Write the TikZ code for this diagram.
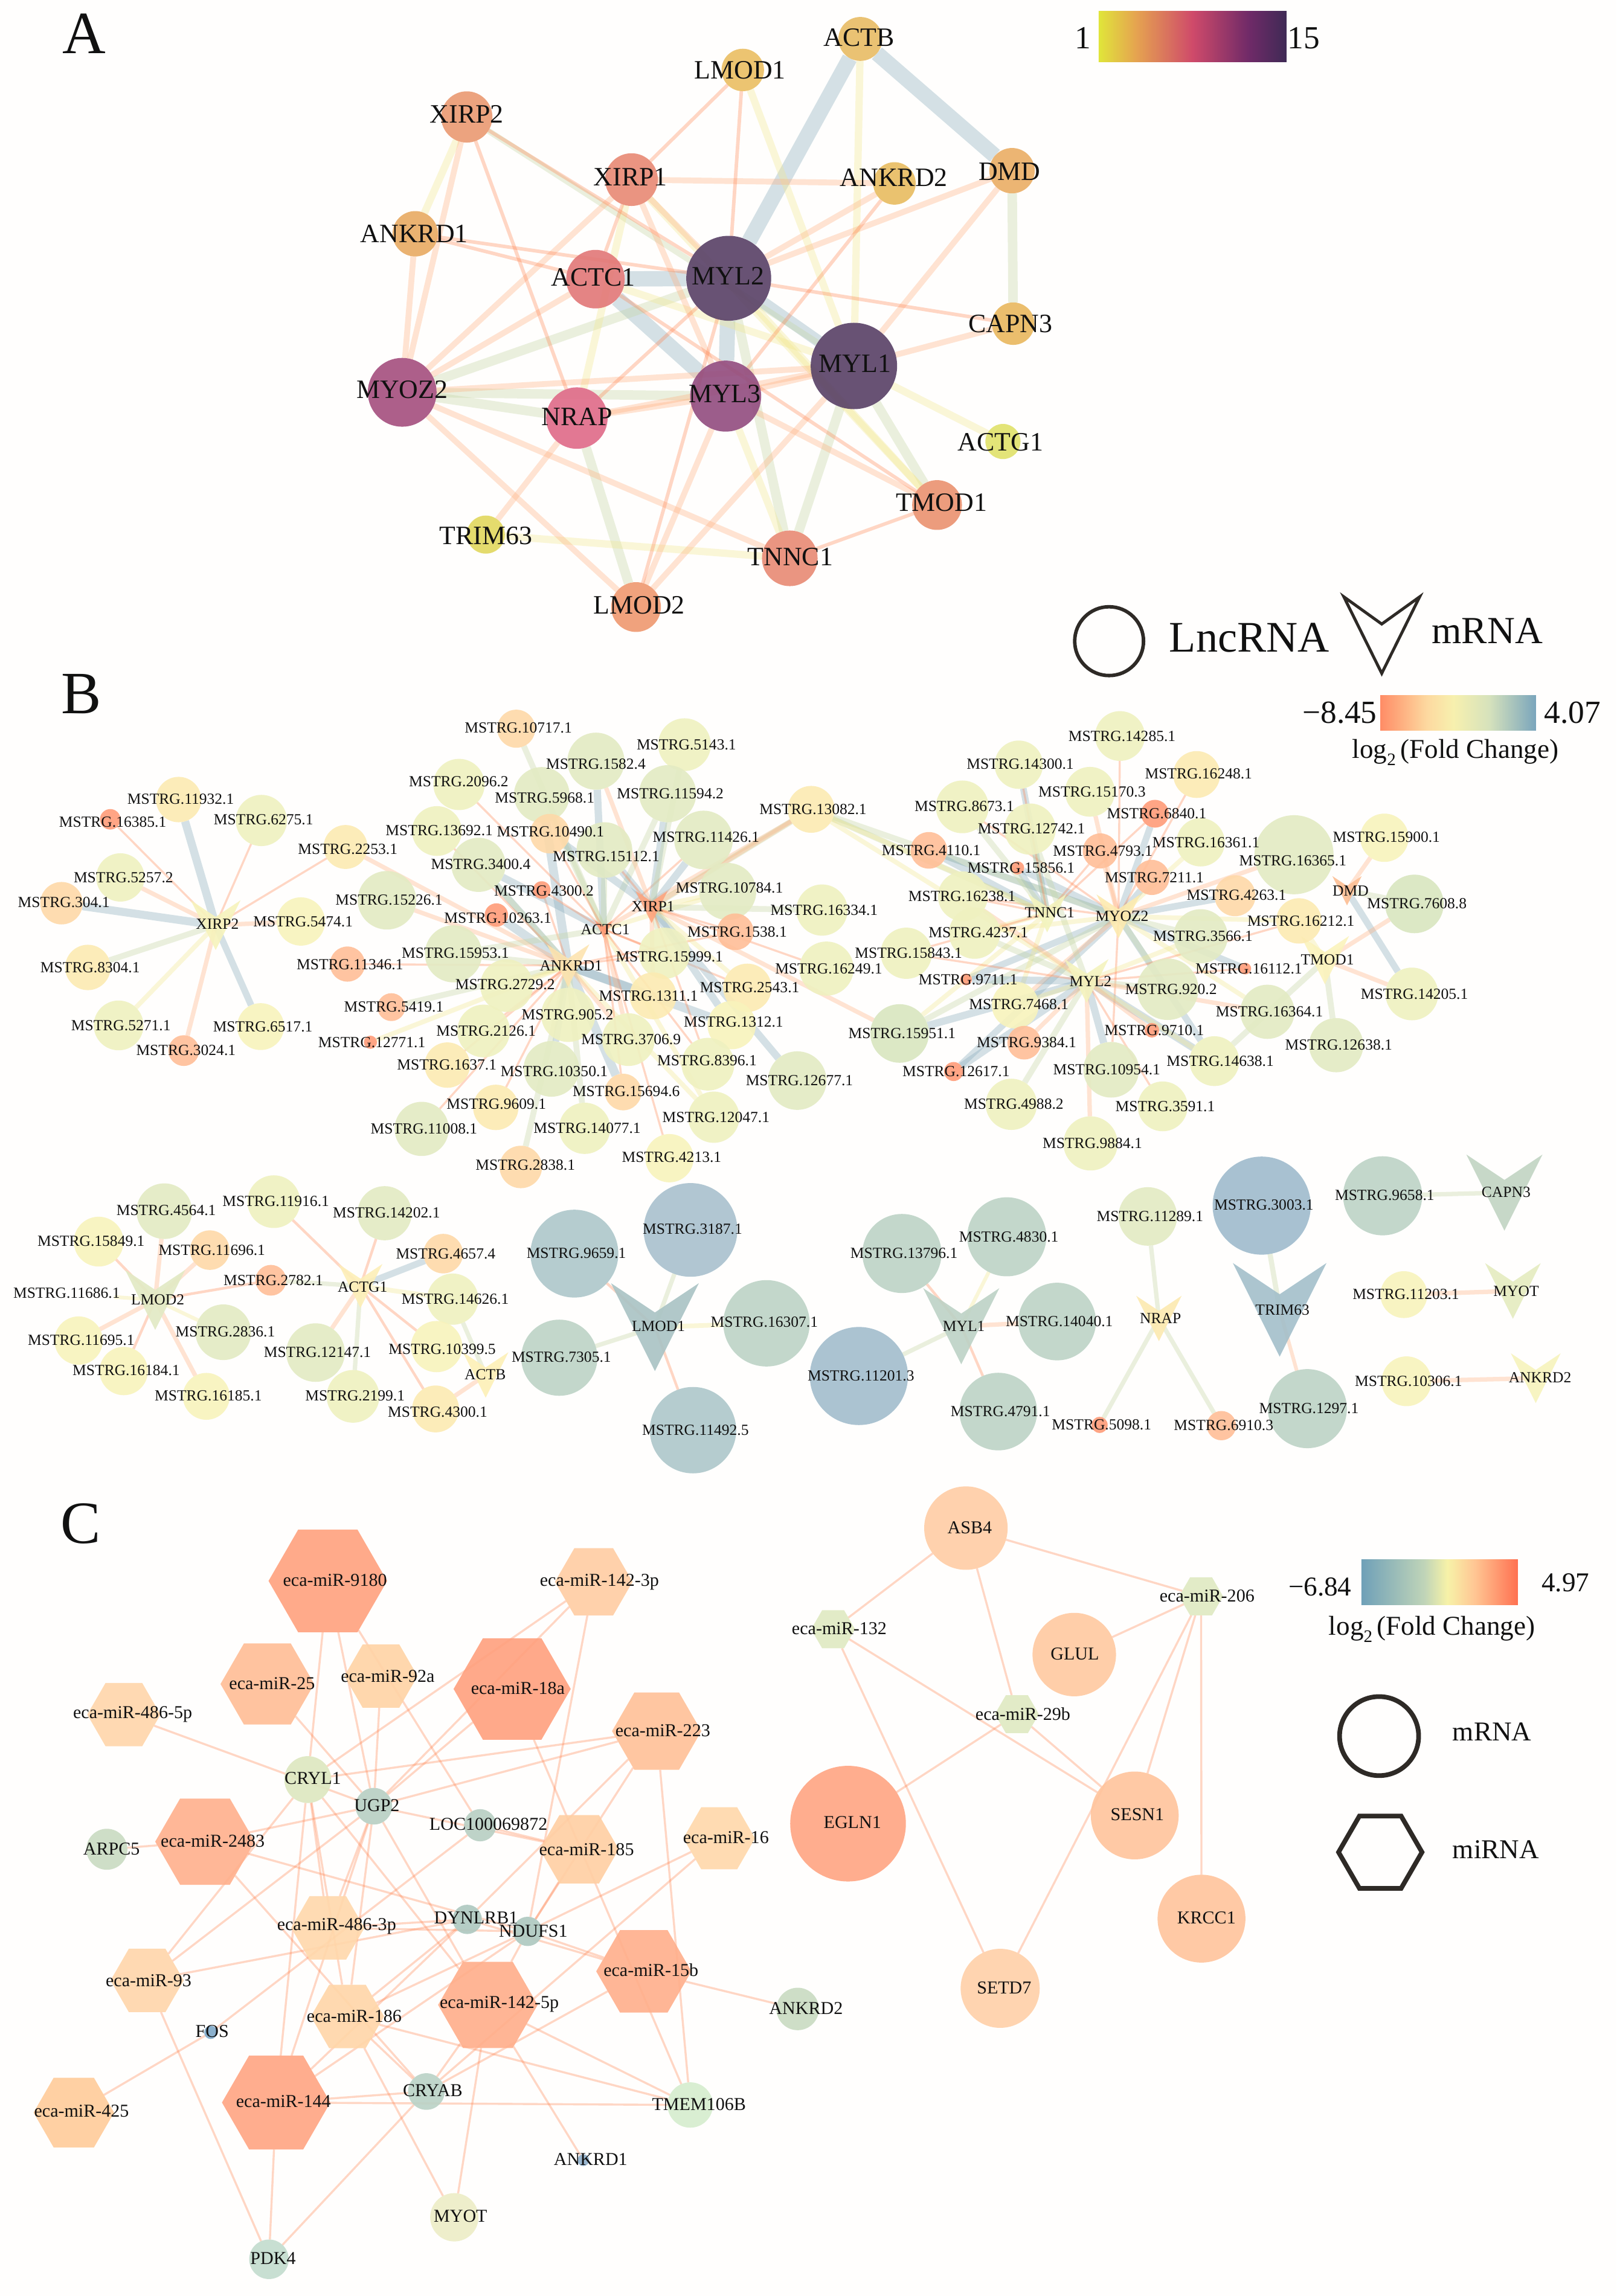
\documentclass[tikz,border=0pt]{standalone}
\usepackage{fontspec}
\setmainfont{Liberation Serif}
\usetikzlibrary{shapes.geometric}
\pgfdeclarelayer{edgelayer}\pgfdeclarelayer{labellayer}
\pgfsetlayers{edgelayer,main,labellayer}
% node palette for panels B and C
\definecolor{c1}{HTML}{FF9C78}\definecolor{c2}{HTML}{FFBE97}\definecolor{c3}{HTML}{FED9A8}
\definecolor{c4}{HTML}{FCEBB2}\definecolor{c5}{HTML}{F8F3BC}\definecolor{c6}{HTML}{EFF1C0}
\definecolor{c7}{HTML}{E3EBC3}\definecolor{c8}{HTML}{D9E6C0}\definecolor{c9}{HTML}{BDD3C6}
\definecolor{c10}{HTML}{AEC7CA}\definecolor{c11}{HTML}{9FBBCD}\definecolor{c12}{HTML}{A9C1CE}\definecolor{c13}{HTML}{A2BDCD}
\definecolor{ink}{HTML}{111111}\definecolor{outl}{HTML}{2E2A26}\definecolor{paper}{HTML}{FFFEFD}
% bar stops
\definecolor{ba0}{HTML}{E0E53A}\definecolor{ba1}{HTML}{E5A350}\definecolor{ba2}{HTML}{CF4A6A}\definecolor{ba3}{HTML}{6F2A68}\definecolor{ba4}{HTML}{3F2A55}
\definecolor{bb0}{HTML}{FF8C66}\definecolor{bb1}{HTML}{FDD9A0}\definecolor{bb2}{HTML}{F7F0AE}\definecolor{bb3}{HTML}{D6E2BC}\definecolor{bb4}{HTML}{7AA5BC}
\definecolor{bc0}{HTML}{6FA0B8}\definecolor{bc1}{HTML}{BFD4B8}\definecolor{bc2}{HTML}{F7F2A8}\definecolor{bc3}{HTML}{FFC794}\definecolor{bc4}{HTML}{FF7050}
\pgfdeclarehorizontalshading{barA}{100bp}{color(0bp)=(ba0);color(25bp)=(ba0);color(35bp)=(ba1);color(50bp)=(ba2);color(65bp)=(ba3);color(75bp)=(ba4);color(100bp)=(ba4)}
\pgfdeclarehorizontalshading{barB}{100bp}{color(0bp)=(bb0);color(25bp)=(bb0);color(40bp)=(bb1);color(48.5bp)=(bb2);color(60bp)=(bb3);color(75bp)=(bb4);color(100bp)=(bb4)}
\pgfdeclarehorizontalshading{barC}{100bp}{color(0bp)=(bc0);color(25bp)=(bc0);color(45bp)=(bc1);color(52.5bp)=(bc2);color(61bp)=(bc3);color(75bp)=(bc4);color(100bp)=(bc4)}
\definecolor{eB}{HTML}{8BAEBE}\definecolor{eG}{HTML}{C5D7A7}\definecolor{eY}{HTML}{F2E88E}\definecolor{eO}{HTML}{FFB17F}\definecolor{eT}{HTML}{FF824D}
\tikzset{
 nf/.style={inner sep=0pt,outer sep=0pt,draw=none,fill opacity=.9},
 labA/.style={inner sep=0pt,text=ink,font=\fontsize{9.05}{10}\selectfont},
 labB/.style={inner sep=0pt,text=ink,font=\fontsize{5.27}{6}\selectfont},
 labC/.style={inner sep=0pt,text=ink,font=\fontsize{6.2}{7}\selectfont},
 legT/.style={inner sep=0pt,text=ink,font=\fontsize{9.3}{11}\selectfont},
 panelT/.style={inner sep=0pt,text=ink,font=\fontsize{20.5}{22}\selectfont},
 ebl/.style={eB,draw opacity=.37,line width=#1*.5pt},ebl/.default=6,
 egn/.style={eG,draw opacity=.36,line width=#1*.5pt},egn/.default=4,
 eyl/.style={eY,draw opacity=.34,line width=#1*.5pt},eyl/.default=3.2,
 eor/.style={eO,draw opacity=.34,line width=#1*.5pt},eor/.default=3,
 eth/.style={eT,draw opacity=.32,line width=#1*.5pt},eth/.default=1.4,
}
\newcommand{\NCirc}[9]{\definecolor{tmpcol}{HTML}{#5}\node[nf,circle,minimum size=#4*.5pt,fill=tmpcol] (#1) at (#2,#3) {};
 \begin{pgfonlayer}{labellayer}\node[#9] (#1t) at (#7,#8) {#6};\end{pgfonlayer}}
\newcommand{\NLnc}[8]{\node[nf,circle,minimum size=#5*.5pt,fill=#6] (l#1v#2) at (#3,#4) {};
 \begin{pgfonlayer}{labellayer}\node[labB] (l#1v#2t) at (#7,#8) {MSTRG.#1.#2};\end{pgfonlayer}}
\newcommand{\NV}[9]{\definecolor{tmpcol}{HTML}{#5}\coordinate (#1) at (#2,#3);
 \fill[tmpcol,fill opacity=.9] ({#2-#4/2},{#3-#4/2}) -- (#2,{#3-#4/6}) -- ({#2+#4/2},{#3-#4/2}) -- (#2,{#3+#4/2}) -- cycle;
 \begin{pgfonlayer}{labellayer}\node[#9] (#1t) at (#7,#8) {#6};\end{pgfonlayer}}
\newcommand{\NHex}[8]{\definecolor{tmpcol}{HTML}{#5}\node[nf,regular polygon,regular polygon sides=6,minimum size=#4*.5pt,fill=tmpcol] (#1) at (#2,#3) {};
 \begin{pgfonlayer}{labellayer}\node[labC] (#1t) at (#7,#8) {#6};\end{pgfonlayer}}
\newcommand{\EHub}[3]{\foreach \a in {#3} \draw[#1] (l\a) -- (h#2);}
\newcommand{\EPairs}[2]{\foreach \a/\b in {#2} \draw[#1] (\a) -- (\b);}
\newcommand{\LogFC}[1]{log\raisebox{-.28em}{\fontsize{#1}{#1}\selectfont 2}\,(Fold Change)}
\begin{document}
\begin{tikzpicture}[x=.5pt,y=-.5pt]
\useasboundingbox (0,0) rectangle (1104,1568.5);
\begin{pgfonlayer}{edgelayer}\fill[paper] (0,0) rectangle (1104,1568.5);\end{pgfonlayer}
% ===== panel letters =====
\node[panelT] (letA) at (57.5,23) {A};
\node[panelT] (letB) at (55.5,474) {B};
\node[panelT] (letC) at (55,1041) {C};
% ===== Panel A =====
\NCirc{aACTB}{587.6}{26.6}{30}{E8BC64}{ACTB}{586.6}{25.5}{labA}
\NCirc{aLMOD1}{507.3}{47.8}{29}{EABE62}{LMOD1}{505.5}{47.8}{labA}
\NCirc{aXIRP2}{318.8}{79.9}{35}{EB9A72}{XIRP2}{318.8}{78.1}{labA}
\NCirc{aXIRP1}{431.3}{122.7}{36}{E88974}{XIRP1}{430.6}{121}{labA}
\NCirc{aANKRD2}{610.9}{125.3}{29}{E8BC60}{ANKRD2}{610.5}{121.5}{labA}
\NCirc{aDMD}{691.2}{116.6}{31}{EBAE64}{DMD}{689.5}{117.2}{labA}
\NCirc{aANKRD1}{283.6}{159.7}{31}{E8AA62}{ANKRD1}{282.9}{159.7}{labA}
\NCirc{aACTC1}{406.7}{190.7}{40}{E27777}{ACTC1}{405.3}{189.6}{labA}
\NCirc{aMYL2}{497.7}{190.1}{58}{584066}{MYL2}{497.3}{188.7}{labA}
\NCirc{aMYL1}{583.2}{250}{59}{584066}{MYL1}{583.9}{248.3}{labA}
\NCirc{aCAPN3}{692}{221.1}{29}{E9B85E}{CAPN3}{690.2}{221.4}{labA}
\NCirc{aMYOZ2}{274.7}{268}{47}{A54E7E}{MYOZ2}{274.7}{266.2}{labA}
\NCirc{aMYL3}{495.6}{270.6}{48.5}{924C7F}{MYL3}{495}{269.1}{labA}
\NCirc{aNRAP}{394}{285.6}{42}{DF6A88}{NRAP}{394}{284.5}{labA}
\NCirc{aACTG1}{685}{301.6}{24}{E0E26A}{ACTG1}{683.4}{302.1}{labA}
\NCirc{aTMOD1}{640}{345}{34}{EA9270}{TMOD1}{643}{343.5}{labA}
\NCirc{aTNNC1}{539.4}{381.4}{38}{E88A74}{TNNC1}{539.8}{380.3}{labA}
\NCirc{aTRIM63}{331.8}{365.2}{26}{E2D85E}{TRIM63}{331.8}{365.8}{labA}
\NCirc{aLMOD2}{434.4}{414.7}{34}{EF9870}{LMOD2}{436.5}{413.3}{labA}
\begin{pgfonlayer}{edgelayer}
\EPairs{ebl=10.5}{aACTB/aMYL2,aACTB/aDMD,aACTC1/aMYL2,aACTC1/aMYL3,aMYL2/aMYL3}
\EPairs{ebl=8}{aMYL2/aMYL1}
\EPairs{egn=6.5}{aMYL2/aMYOZ2,aMYL2/aTNNC1,aDMD/aCAPN3,aMYL1/aTNNC1,aMYL1/aTMOD1,aMYL3/aMYOZ2,aNRAP/aMYOZ2,aNRAP/aLMOD2}
\EPairs{egn=4}{aXIRP2/aMYL1}
\EPairs{eyl=5}{aACTB/aMYL1,aLMOD1/aMYL1,aXIRP2/aANKRD1,aXIRP1/aNRAP,aXIRP1/aTMOD1,aACTC1/aMYL1,aMYL2/aTMOD1,aMYL1/aACTG1,aMYL3/aTNNC1,aTNNC1/aTRIM63}
\EPairs{eor=4}{aXIRP2/aMYOZ2,aXIRP1/aMYL2,aXIRP1/aMYOZ2,aXIRP1/aMYL3,aXIRP1/aANKRD2,aANKRD2/aMYL2,aDMD/aMYL2,aDMD/aMYL1,aANKRD1/aMYOZ2,aACTC1/aMYOZ2,aMYL1/aMYOZ2,aMYL1/aNRAP,aMYL1/aMYL3,aMYL1/aCAPN3,aMYL1/aLMOD2,aMYL3/aNRAP,aMYL3/aLMOD2,aMYL3/aTMOD1,aNRAP/aTRIM63,aMYOZ2/aTNNC1,aMYOZ2/aLMOD2}
\EPairs{eth=2.4}{aLMOD1/aXIRP1,aLMOD1/aMYL2,aXIRP2/aNRAP,aXIRP2/aMYL2,aXIRP1/aACTC1,aANKRD2/aMYL3,aANKRD1/aMYL2,aANKRD1/aACTC1,aACTC1/aTMOD1,aMYL2/aNRAP,aMYL2/aLMOD2,aMYL2/aCAPN3,aTNNC1/aTMOD1}
\end{pgfonlayer}
% colour bar A
\shade[shading=barA] (750.4,7.8) rectangle (878.7,42.4);
\node[legT,font=\fontsize{11}{12}\selectfont] (barAlo) at (739.6,26) {1};
\node[legT,font=\fontsize{11}{12}\selectfont] (barAhi) at (890.5,26) {15};
% ===== legend B =====
\node[circle,draw=outl,line width=1.2pt,minimum size=47*.5pt,inner sep=0pt] (legLnc) at (757.5,438) {};
\node[legT,font=\fontsize{14.9}{16}\selectfont] (legLncT) at (853.3,435.6) {LncRNA};
\draw[outl,line width=1pt,line join=miter] (917.8,407.7) -- (943.7,426.3) -- (969.6,407.7) -- (943.7,460) -- cycle;
\node[legT,font=\fontsize{13.1}{15}\selectfont] (legmT) at (1015.8,431) {mRNA};
\shade[shading=barB] (942.7,475) rectangle (1049,499);
\node[legT,font=\fontsize{11}{12}\selectfont] (barBlo) at (915,487) {−8.45};
\node[legT,font=\fontsize{11}{12}\selectfont] (barBhi) at (1074,487) {4.07};
\node[legT] (barBt) at (994,514) {\LogFC{6}};
% ===== Panel B: hubs =====
\NV{hXIRP2}{147.3}{632}{34}{F7F3BC}{XIRP2}{148.5}{631.4}{labB}
\NV{hXIRP1}{445}{619.6}{22}{FFA57E}{XIRP1}{446}{619.4}{labB}
\NV{hACTC1}{412.3}{634.8}{12}{FF9C78}{ACTC1}{413.4}{634.8}{labB}
\NV{hANKRD1}{388}{659.6}{29}{FDE4B0}{ANKRD1}{390}{659.6}{labB}
\NV{hTNNC1}{715.2}{623.9}{26}{F3F4BE}{TNNC1}{716.9}{623.4}{labB}
\NV{hMYOZ2}{763.9}{626}{30}{FDEBB0}{MYOZ2}{766.3}{626}{labB}
\NV{hMYL2}{742.1}{670.2}{30}{F4F3BE}{MYL2}{744.8}{670.2}{labB}
\NV{hDMD}{920}{608.5}{20}{FDBE93}{DMD}{922.4}{608.5}{labB}
\NV{hTMOD1}{904.9}{655.9}{33}{FBF3BC}{TMOD1}{906.6}{655.4}{labB}
\NV{hLMOD2}{106}{888}{41}{E2EAC4}{LMOD2}{107.7}{888}{labB}
\NV{hACTG1}{246.2}{878.5}{30}{FDEFB8}{ACTG1}{247.6}{879.3}{labB}
\NV{hACTB}{331.7}{939.3}{31}{FDF0B7}{ACTB}{331.4}{938.9}{labB}
\NV{hLMOD1}{447.3}{906.6}{60}{A9C3C4}{LMOD1}{449.7}{906.2}{labB}
\NV{hMYL1}{656.5}{906}{52}{BDD2C6}{MYL1}{658.3}{906}{labB}
\NV{hNRAP}{791.5}{900.7}{31}{FCEAB0}{NRAP}{792.6}{900.4}{labB}
\NV{hTRIM63}{874}{894.8}{64}{A3BFCA}{TRIM63}{875.9}{894.8}{labB}
\NV{hCAPN3}{1027.5}{814.7}{52}{C2D4C3}{CAPN3}{1028.6}{814.4}{labB}
\NV{hMYOT}{1033.3}{881.9}{38}{E5ECC0}{MYOT}{1035.5}{881.9}{labB}
\NV{hANKRD2}{1048.9}{941.5}{34}{F7F3BC}{ANKRD2}{1051.8}{941.1}{labB}
% ===== Panel B: lncRNA =====
\NLnc{11932}{1}{122}{546.2}{31}{c4}{123.4}{546}
\NLnc{16385}{1}{75.3}{559.7}{14}{c1}{77}{561.5}
\NLnc{6275}{1}{178.5}{560.5}{35}{c6}{180}{560}
\NLnc{2253}{1}{236}{578.6}{30}{c4}{237.5}{580.3}
\NLnc{5257}{2}{82.2}{599.4}{33}{c6}{84.3}{599.4}
\NLnc{304}{1}{42}{617}{29}{c3}{43.6}{616.5}
\NLnc{5474}{1}{205.5}{629.5}{33}{c5}{207}{629.5}
\NLnc{15226}{1}{264.3}{615}{40}{c7}{265.7}{614.8}
\NLnc{8304}{1}{60}{660.9}{31}{c4}{61.6}{660.9}
\NLnc{11346}{1}{237.3}{658.6}{24}{c2}{239}{658.8}
\NLnc{5271}{1}{81}{700.5}{34}{c6}{82.6}{700.5}
\NLnc{6517}{1}{178}{701.3}{32}{c5}{179.5}{701.3}
\NLnc{3024}{1}{125.5}{717.7}{21}{c2}{127}{717.5}
\NLnc{5419}{1}{267.3}{688}{19}{c2}{269}{688}
\NLnc{12771}{1}{253}{712}{9}{c1}{254}{712}
\NLnc{10717}{1}{352.6}{497.8}{26}{c3}{354}{497}
\NLnc{2096}{2}{313.5}{535.9}{35}{c6}{313.3}{533.8}
\NLnc{13692}{1}{298.4}{567.7}{34}{c6}{300}{567.4}
\NLnc{3400}{4}{326.8}{590.8}{37}{c7}{328.4}{590.6}
\NLnc{10263}{1}{339}{625.1}{16}{c1}{340}{627.2}
\NLnc{15953}{1}{309.7}{651.6}{39}{c7}{311}{651.2}
\NLnc{2729}{2}{346}{673.3}{36}{c6}{345}{672.5}
\NLnc{2126}{1}{330.3}{704.3}{36}{c6}{332}{704.3}
\NLnc{1637}{1}{305.5}{727.6}{31}{c4}{305.2}{727.6}
\NLnc{9609}{1}{338.6}{756.5}{31}{c4}{339}{754.4}
\NLnc{11008}{1}{288}{771.2}{37}{c7}{289.6}{771.2}
\NLnc{2838}{1}{355.7}{797.2}{29}{c3}{358.8}{796}
\NLnc{5143}{1}{467.5}{508.7}{36}{c6}{468.8}{508.7}
\NLnc{1582}{4}{407}{520}{39}{c7}{407}{521.8}
\NLnc{11594}{2}{456}{542.2}{39}{c7}{457.8}{542.2}
\NLnc{5968}{1}{370}{543}{38}{c7}{372}{545}
\NLnc{10490}{1}{375.5}{569.5}{27}{c3}{376}{568}
\NLnc{15112}{1}{412.8}{580.7}{38}{c7}{414}{585}
\NLnc{11426}{1}{480.5}{573.8}{40}{c7}{482.2}{571.9}
\NLnc{4300}{2}{370}{608}{12}{c1}{371.5}{608.5}
\NLnc{10784}{1}{497}{609}{39}{c7}{498.2}{606.6}
\NLnc{16334}{1}{561.4}{621.7}{35}{c6}{562.9}{621.7}
\NLnc{1538}{1}{502.2}{636.5}{25}{c2}{503.5}{636.5}
\NLnc{15999}{1}{453.8}{651.2}{35}{c6}{457.2}{653.7}
\NLnc{16249}{1}{564.5}{661.7}{37}{c6}{566}{661.7}
\NLnc{15843}{1}{619}{651.2}{35}{c6}{620.5}{651.2}
\NLnc{4110}{1}{634.4}{580.9}{25}{c2}{636}{580.9}
\NLnc{13082}{1}{554}{552.9}{32}{c4}{555.3}{552.9}
\NLnc{8673}{1}{657.2}{551.2}{36}{c6}{658.6}{550.8}
\NLnc{16238}{1}{657.6}{612.3}{34}{c6}{657}{612.3}
\NLnc{2543}{1}{510.4}{674.8}{33}{c4}{512}{674.8}
\NLnc{1311}{1}{446}{680.3}{32}{c4}{442.9}{680.3}
\NLnc{905}{2}{388.1}{693.3}{37}{c6}{387.6}{693}
\NLnc{3706}{9}{429.2}{710.2}{36}{c6}{431}{710.2}
\NLnc{1312}{1}{499.7}{700.3}{33}{c5}{501}{698.2}
\NLnc{8396}{1}{483.5}{727}{36}{c6}{482.9}{724.3}
\NLnc{10350}{1}{376.6}{730.2}{38}{c7}{378.5}{731.9}
\NLnc{15694}{6}{425.6}{746}{25}{c3}{427.7}{745.5}
\NLnc{12677}{1}{544.5}{738.2}{40}{c7}{546}{738.2}
\NLnc{15951}{1}{614.4}{706}{40}{c8}{616.1}{706}
\NLnc{14077}{1}{399.3}{770.8}{35}{c6}{401}{770.8}
\NLnc{12047}{1}{487.5}{763.2}{35}{c6}{489}{763.2}
\NLnc{4213}{1}{457.2}{791.2}{33}{c5}{458.7}{790.6}
\NLnc{12617}{1}{651.3}{732}{13}{c1}{653}{732}
\NLnc{14285}{1}{764.9}{502.8}{34}{c6}{766.3}{502.8}
\NLnc{14300}{1}{695.8}{522.4}{33}{c6}{696.8}{522}
\NLnc{16248}{1}{817.3}{529.1}{32}{c4}{818.6}{528.7}
\NLnc{15170}{3}{744.4}{540.9}{34}{c6}{745.8}{540.9}
\NLnc{6840}{1}{788.8}{555.9}{19}{c1}{790}{555.7}
\NLnc{12742}{1}{703.5}{566.4}{35}{c6}{704.5}{566.2}
\NLnc{4793}{1}{751.5}{581.3}{24}{c2}{753.2}{581.3}
\NLnc{16361}{1}{820}{575.4}{33}{c6}{823.7}{575.4}
\NLnc{15856}{1}{695}{592.9}{9}{c1}{697.4}{592.9}
\NLnc{7211}{1}{786.7}{599.4}{24}{c2}{788.4}{599.4}
\NLnc{16365}{1}{883.8}{583.9}{54}{c7}{883}{588.1}
\NLnc{15900}{1}{945.5}{572.3}{33}{c5}{946.9}{572}
\NLnc{4263}{1}{843.5}{611.9}{28}{c3}{844.5}{611.4}
\NLnc{7608}{8}{966}{617.5}{40}{c8}{967.7}{617.1}
\NLnc{16212}{1}{887.1}{629.1}{31}{c4}{888.5}{629.1}
\NLnc{3566}{1}{820}{639.6}{37}{c7}{821.6}{639.6}
\NLnc{4237}{1}{665.6}{637.5}{35}{c6}{668.2}{637.1}
\NLnc{16112}{1}{850.5}{661.7}{8}{c1}{852.9}{661.7}
\NLnc{920}{2}{797.5}{675.8}{42}{c7}{799.8}{675.8}
\NLnc{9711}{1}{659.8}{669.1}{8}{c1}{661.2}{669.1}
\NLnc{7468}{1}{693.4}{686.6}{32}{c5}{695.8}{686.2}
\NLnc{16364}{1}{865.6}{691.2}{37}{c7}{867}{691.2}
\NLnc{14205}{1}{964.3}{679}{36}{c6}{966}{679}
\NLnc{12638}{1}{912.6}{714}{37}{c7}{914.3}{713.7}
\NLnc{9384}{1}{699.5}{712.3}{23}{c2}{701.1}{712.3}
\NLnc{9710}{1}{786.7}{703.8}{10}{c1}{788.4}{703.8}
\NLnc{14638}{1}{829.4}{724.9}{34}{c6}{833.4}{724.9}
\NLnc{10954}{1}{758.9}{730.8}{38}{c7}{755.9}{730.8}
\NLnc{4988}{2}{690.7}{754.4}{35}{c6}{692.4}{754.4}
\NLnc{3591}{1}{794.1}{755.8}{34}{c6}{795.8}{755.8}
\NLnc{9884}{1}{744.8}{781.1}{37}{c6}{746.1}{781.1}
\NLnc{4564}{1}{112.2}{827.4}{38}{c7}{113.5}{827}
\NLnc{11916}{1}{187}{820.9}{36}{c6}{188.4}{820.6}
\NLnc{14202}{1}{262.7}{828.8}{37}{c7}{264}{828.5}
\NLnc{15849}{1}{67.4}{848.2}{34}{c5}{62.2}{847.9}
\NLnc{11696}{1}{143.3}{854}{27}{c3}{144.7}{854}
\NLnc{4657}{4}{302.7}{856.4}{27}{c3}{304.4}{856.4}
\NLnc{2782}{1}{185}{874.6}{21}{c2}{186.7}{874.6}
\NLnc{14626}{1}{309.2}{887.5}{35}{c6}{310.9}{887.5}
\NLnc{11686}{1}{78}{886}{.1}{paper}{45.5}{883.3}
\NLnc{2836}{1}{152.5}{910.1}{38}{c7}{153.9}{909.8}
\NLnc{11695}{1}{53.7}{915.8}{33}{c5}{55.4}{915.5}
\NLnc{12147}{1}{215.5}{924}{40}{c7}{216.8}{923.7}
\NLnc{10399}{5}{298.2}{919.9}{35}{c5}{302}{921.5}
\NLnc{16184}{1}{84.5}{936.6}{33}{c5}{86.2}{936.3}
\NLnc{7305}{1}{382}{927.5}{52}{c9}{383.4}{927}
\NLnc{16185}{1}{140.9}{953.9}{32}{c5}{142.3}{953.5}
\NLnc{2199}{1}{241.1}{953.9}{36}{c6}{242.5}{953.5}
\NLnc{4300}{1}{297.5}{962.5}{32}{c4}{298.9}{964.6}
\NLnc{9659}{1}{392.3}{856.4}{60}{c10}{393.6}{856.1}
\NLnc{3187}{1}{471.6}{840.2}{64}{c12}{473}{839.7}
\NLnc{16307}{1}{523.5}{904}{59}{c9}{522}{903}
\NLnc{11492}{5}{473.3}{977}{59}{c10}{475}{976.8}
\NLnc{13796}{1}{616}{856.3}{54}{c9}{617.4}{856}
\NLnc{4830}{1}{687.6}{844.9}{54}{c9}{689}{844.8}
\NLnc{14040}{1}{722}{902.8}{53}{c9}{723.5}{902.8}
\NLnc{11201}{3}{586.6}{940}{67}{c13}{588}{939.7}
\NLnc{4791}{1}{681.8}{964.3}{53}{c9}{683.3}{964}
\NLnc{11289}{1}{783.9}{831}{40}{c7}{785.4}{831}
\NLnc{3003}{1}{861.7}{823.6}{67}{c11}{863.2}{823.2}
\NLnc{9658}{1}{944.3}{816.9}{54}{c9}{945.7}{816.5}
\NLnc{11203}{1}{958.8}{884.4}{32}{c5}{960.2}{884}
\NLnc{10306}{1}{960.6}{943.6}{34}{c5}{962}{943.6}
\NLnc{1297}{1}{892.9}{962.3}{54}{c9}{894}{962}
\NLnc{5098}{1}{751}{973.4}{11}{c1}{752.4}{973.1}
\NLnc{6910}{3}{834.2}{973.9}{20}{c2}{835.7}{973.6}
\begin{pgfonlayer}{edgelayer}
% XIRP2
\EHub{ebl=5.5}{XIRP2}{11932v1,304v1}
\EHub{ebl=4.5}{XIRP2}{6517v1}
\EHub{egn}{XIRP2}{8304v1}
\EHub{eyl}{XIRP2}{5271v1}
\EHub{eor}{XIRP2}{5257v2,5474v1,3024v1}
\EHub{eth}{XIRP2}{16385v1,6275v1,2253v1}
% left cluster
\EHub{ebl=6}{ANKRD1}{5968v1,10263v1,1311v1,1312v1,15694v6}
\EHub{ebl=4.5}{ANKRD1}{3400v4,10350v1}
\EHub{egn}{ANKRD1}{14077v1,2838v1,15953v1,5419v1,3400v4}
\EHub{eyl}{ANKRD1}{905v2,2729v2,12771v1,12047v1}
\EHub{eor}{ANKRD1}{2253v1,15226v1,3706v9}
\EHub{eth}{ANKRD1}{13692v1,11346v1,2126v1,1637v1,9609v1,11008v1,4300v2,1538v1,15999v1}
\EHub{ebl=5}{ACTC1}{1582v4,3400v4}
\EHub{egn}{ACTC1}{10717v1,5968v1,15112v1,15953v1,11594v2}
\EHub{eyl}{ACTC1}{12047v1,10784v1}
\EHub{eor}{ACTC1}{3706v9,13082v1}
\EHub{eth}{ACTC1}{2096v2,10490v1,4300v2,11426v1,15999v1,2543v1,8396v1,4213v1,15694v6}
\EHub{ebl=5}{XIRP1}{11594v2,11426v1,10490v1,1312v1,12677v1,15112v1}
\EHub{egn}{XIRP1}{5143v1,16334v1,13082v1,15999v1}
\EHub{eyl}{XIRP1}{10784v1,2543v1}
\EHub{eor}{XIRP1}{1582v4,13082v1,15951v1,1311v1}
\EHub{eth}{XIRP1}{15112v1,1538v1,16249v1,8396v1}
% right cluster
\EHub{ebl=4.5}{MYOZ2}{6840v1,7211v1,4263v1,12617v1,14638v1,16112v1,9711v1,15856v1,4110v1}
\EHub{egn}{MYOZ2}{13082v1,15951v1,920v2,3566v1}
\EHub{eyl}{MYOZ2}{16361v1,16212v1,16364v1,4237v1}
\EHub{eor}{MYOZ2}{15170v3,4793v1,16365v1,7468v1}
\EHub{eth}{MYOZ2}{14285v1,16248v1,10954v1,8673v1,16238v1}
\EHub{ebl=4.5}{TNNC1}{4110v1,15856v1,14300v1}
\EHub{egn}{TNNC1}{12742v1,13082v1,8673v1}
\EHub{eyl}{TNNC1}{4237v1,15951v1,7468v1,13082v1}
\EHub{eth}{TNNC1}{14300v1,16238v1,4793v1,15843v1,6840v1}
\EHub{ebl=5}{MYL2}{15951v1,10954v1,12617v1,9711v1,14638v1}
\EHub{egn}{MYL2}{4237v1,4988v2,920v2,12742v1}
\EHub{eyl}{MYL2}{13082v1,14638v1,7468v1,3566v1}
\EHub{eor}{MYL2}{9384v1,9884v1,16364v1,16238v1,9710v1}
\EHub{eth}{MYL2}{15843v1,3591v1,16212v1,16112v1}
\EHub{ebl=4.5}{DMD}{14205v1}
\EHub{egn}{DMD}{7608v8}
\EHub{eor}{DMD}{15900v1}
\EHub{egn}{TMOD1}{12638v1,14638v1}
\EHub{eyl}{TMOD1}{16212v1}
\EHub{eor}{TMOD1}{14205v1,7608v8}
% lower row
\EHub{eyl=2.5}{LMOD2}{11686v1,2836v1}
\EHub{eor}{LMOD2}{4564v1,11696v1,11695v1,16185v1}
\EHub{eth=1.8}{LMOD2}{15849v1,2782v1,16184v1}
\EHub{ebl=4.5}{ACTG1}{4657v4}
\EHub{egn=3}{ACTG1}{2782v1,2199v1}
\EHub{eyl}{ACTG1}{14626v1}
\EHub{eor}{ACTG1}{12147v1}
\EHub{eth=1.8}{ACTG1}{11916v1,14202v1,10399v5,4300v1}
\EHub{egn=3}{ACTB}{14626v1}
\EHub{eor}{ACTB}{4300v1}
\EHub{egn=3}{LMOD1}{3187v1,7305v1}
\EHub{eyl}{LMOD1}{16307v1}
\EHub{eth=1.8}{LMOD1}{9659v1,11492v5}
\EHub{egn=3}{MYL1}{11201v3}
\EHub{eyl=2.5}{MYL1}{4830v1}
\EHub{eor}{MYL1}{14040v1}
\EHub{eth=1.8}{MYL1}{13796v1,4791v1}
\EHub{egn=3}{NRAP}{11289v1,5098v1,6910v3}
\EHub{egn=3.5}{TRIM63}{3003v1}
\EHub{eor=2.5}{TRIM63}{1297v1}
\EHub{egn=3}{CAPN3}{9658v1}
\EHub{eor=3}{MYOT}{11203v1}
\EHub{eor=3}{ANKRD2}{10306v1}
\end{pgfonlayer}
% ===== Panel C =====
\NHex{m9180}{223.9}{1080}{81}{FFA17E}{eca-miR-9180}{228.8}{1079.3}
\NHex{m1423p}{405.5}{1080.6}{53}{FFCDA3}{eca-miR-142-3p}{409.4}{1080.6}
\NHex{m25}{182.6}{1150.4}{64}{FFBD95}{eca-miR-25}{185.8}{1150}
\NHex{m92a}{260.2}{1145}{50}{FFD3A5}{eca-miR-92a}{264.8}{1145}
\NHex{m18a}{349.8}{1153.8}{80}{FFA07E}{eca-miR-18a}{353.7}{1153.2}
\NHex{m4865p}{84.6}{1171.3}{50}{FFD6AA}{eca-miR-486-5p}{90.6}{1170.9}
\NHex{m223}{448.5}{1182.6}{61}{FFC197}{eca-miR-223}{452.7}{1182.2}
\NHex{m2483}{140}{1258.1}{68}{FFB08C}{eca-miR-2483}{145.3}{1257.8}
\NHex{m16}{491.2}{1255.8}{49}{FFD8AA}{eca-miR-16}{495.8}{1255.4}
\NHex{m185}{395.6}{1263.3}{54}{FFCFA3}{eca-miR-185}{400.6}{1263.3}
\NHex{m4863p}{223.9}{1317}{50}{FFD8AB}{eca-miR-486-3p}{229.9}{1316}
\NHex{m93}{100.5}{1352.9}{50}{FFD6AA}{eca-miR-93}{101.5}{1352.9}
\NHex{m15b}{439.7}{1346.7}{65}{FFAF8B}{eca-miR-15b}{444.6}{1346}
\NHex{m186}{237.3}{1377.5}{50}{FFD6A8}{eca-miR-186}{241.9}{1377.2}
\NHex{m1425p}{333.2}{1369.6}{68}{FFAE8A}{eca-miR-142-5p}{341}{1369.3}
\NHex{m144}{188.6}{1436.3}{74}{FFA582}{eca-miR-144}{193.6}{1435.6}
\NHex{m425}{50.4}{1443.2}{55}{FFCB9A}{eca-miR-425}{55.7}{1442.1}
\NHex{m206}{820.3}{1090.5}{30}{DFEAC2}{eca-miR-206}{824.4}{1090.3}
\NHex{m132}{569}{1113}{30}{DFEAC2}{eca-miR-132}{573.2}{1112.5}
\NHex{m29b}{694.5}{1171}{30}{DFEAC2}{eca-miR-29b}{698.6}{1170.8}
\NCirc{gCRYL1}{210.2}{1215.7}{32}{DDE7C0}{CRYL1}{213.7}{1215}{labC}
\NCirc{gUGP2}{255.3}{1233.9}{25}{B7CFC3}{UGP2}{257.4}{1233.2}{labC}
\NCirc{gLOC}{327.9}{1246.9}{22}{B7CFC3}{LOC100069872}{333.6}{1246.2}{labC}
\NCirc{gARPC5}{73}{1263.3}{28}{C9DBC2}{ARPC5}{76.2}{1262.9}{labC}
\NCirc{gDYNLRB1}{319.1}{1311.2}{20}{AEC8C0}{DYNLRB1}{325.1}{1310.1}{labC}
\NCirc{gNDUFS1}{360.4}{1319.4}{20}{AEC8C0}{NDUFS1}{364.2}{1319}{labC}
\NCirc{gANKRD2}{544.8}{1372.4}{29}{C9DBC2}{ANKRD2}{550.5}{1371.8}{labC}
\NCirc{gFOS}{143.9}{1388.4}{9}{7EA8C8}{FOS}{144.9}{1387.8}{labC}
\NCirc{gCRYAB}{291.2}{1428.8}{25}{BAD2C6}{CRYAB}{295.5}{1428.1}{labC}
\NCirc{gTMEM}{471.4}{1438}{31}{D5EDCE}{TMEM106B}{477.4}{1437.4}{labC}
\NCirc{gANKRD1}{398.4}{1475.7}{8}{90B0CC}{ANKRD1}{403.4}{1475}{labC}
\NCirc{gMYOT}{310.3}{1514.7}{33}{EDEDC6}{MYOT}{314.5}{1514}{labC}
\NCirc{gPDK4}{183.7}{1543.4}{27}{C3DCCE}{PDK4}{186.5}{1542.7}{labC}
\NCirc{gASB4}{659.7}{1043.9}{57}{FFCDA5}{ASB4}{662.3}{1043.4}{labC}
\NCirc{gGLUL}{733.7}{1130.3}{57}{FFC9A0}{GLUL}{734.1}{1129.8}{labC}
\NCirc{gEGLN1}{579.2}{1245.8}{79}{FFA582}{EGLN1}{582.2}{1245.1}{labC}
\NCirc{gSESN1}{775}{1240.2}{60}{FFC49C}{SESN1}{776.8}{1239.5}{labC}
\NCirc{gKRCC1}{820.6}{1310.7}{60}{FFC49C}{KRCC1}{824}{1310.2}{labC}
\NCirc{gSETD7}{683.1}{1358.3}{54}{FFD0A8}{SETD7}{685.8}{1358.1}{labC}
\begin{pgfonlayer}{edgelayer}
\EPairs{eth}{m9180/gCRYL1,m9180/gUGP2,m9180/gLOC,m1423p/gCRYL1,m1423p/gUGP2,m1423p/gNDUFS1,m25/gUGP2,m92a/gUGP2,m18a/gUGP2,m18a/gTMEM,m4865p/gUGP2,
 m223/gCRYL1,m223/gUGP2,m223/gDYNLRB1,m223/gNDUFS1,m223/gTMEM,m185/gUGP2,m185/gLOC,m2483/gUGP2,m2483/gARPC5,m2483/gNDUFS1,m2483/gCRYAB,
 m93/gCRYL1,m93/gUGP2,m93/gDYNLRB1,m93/gPDK4,m4863p/gCRYL1,m4863p/gUGP2,gFOS/gLOC,m186/gCRYL1,m186/gUGP2,m144/gCRYL1,m144/gUGP2,m1425p/gCRYL1,m1425p/gUGP2,
 m16/gNDUFS1,m16/gCRYAB,m185/gNDUFS1,m4863p/gDYNLRB1,m4863p/gNDUFS1,m15b/gDYNLRB1,m15b/gNDUFS1,m15b/gANKRD2,m15b/gCRYAB,
 m186/gDYNLRB1,m186/gNDUFS1,m186/gCRYAB,m186/gTMEM,m186/gMYOT,m1425p/gNDUFS1,m1425p/gCRYAB,m1425p/gMYOT,m1425p/gANKRD1,m1425p/gTMEM,
 m144/gDYNLRB1,m144/gNDUFS1,m144/gCRYAB,m144/gTMEM,m144/gPDK4,m425/gFOS,gCRYAB/gPDK4,
 gASB4/m132,gASB4/m206,gASB4/m29b,gGLUL/m206,m132/gSETD7,m132/gSESN1,m29b/gEGLN1,m29b/gSESN1,m206/gSESN1,m206/gSETD7,m206/gKRCC1}
\end{pgfonlayer}
% legend C
\shade[shading=barC] (929.8,1065.2) rectangle (1036.7,1096.4);
\node[legT] (barClo) at (901.5,1084) {−6.84};
\node[legT] (barChi) at (1069.2,1081.3) {4.97};
\node[legT] (barCt) at (978,1113) {\LogFC{6}};
\node[circle,draw=outl,line width=1.6pt,minimum size=54*.5pt,inner sep=0pt] (legmRNA) at (941.9,1186) {};
\node[legT] (legmRNAt) at (1019,1183) {mRNA};
\node[regular polygon,regular polygon sides=6,draw=outl,line width=1.6pt,minimum size=57*.5pt,inner sep=0pt] (legmiRNA) at (942.7,1265.3) {};
\node[legT] (legmiRNAt) at (1021.6,1263.4) {miRNA};
\end{tikzpicture}
\end{document}
